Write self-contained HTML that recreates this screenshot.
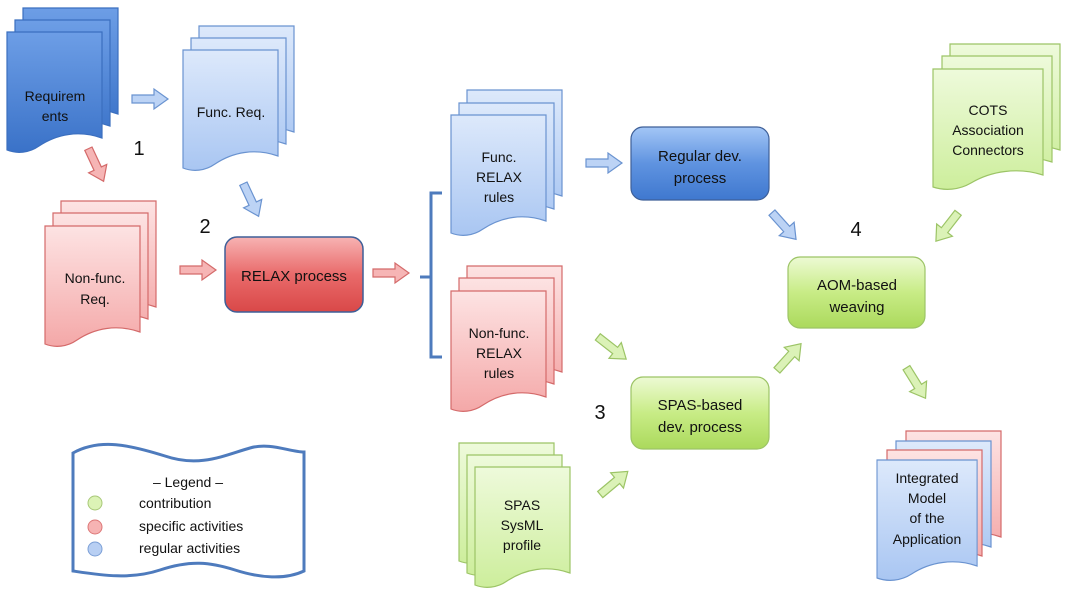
<!DOCTYPE html>
<html><head><meta charset="utf-8"><style>
html,body{margin:0;padding:0;background:#fff;}
svg{display:block;}
text{font-family:"Liberation Sans",sans-serif;fill:#111;}
</style></head><body>
<svg width="1072" height="598" viewBox="0 0 1072 598" xmlns="http://www.w3.org/2000/svg">
<defs>
<linearGradient id="gB" x1="0" y1="0" x2="0" y2="1"><stop offset="0" stop-color="#6d9ee6"/><stop offset="1" stop-color="#3a72c8"/></linearGradient>
<linearGradient id="gLB" x1="0" y1="0" x2="0" y2="1"><stop offset="0" stop-color="#dde9fb"/><stop offset="1" stop-color="#a9c6f2"/></linearGradient>
<linearGradient id="gR" x1="0" y1="0" x2="0" y2="1"><stop offset="0" stop-color="#fde3e3"/><stop offset="1" stop-color="#f4a8a8"/></linearGradient>
<linearGradient id="gG" x1="0" y1="0" x2="0" y2="1"><stop offset="0" stop-color="#eefadb"/><stop offset="1" stop-color="#cdee9c"/></linearGradient>
<linearGradient id="bB" x1="0" y1="0" x2="0" y2="1"><stop offset="0" stop-color="#a3c6f6"/><stop offset="0.5" stop-color="#5f93e0"/><stop offset="1" stop-color="#3f78cf"/></linearGradient>
<linearGradient id="bR" x1="0" y1="0" x2="0" y2="1"><stop offset="0" stop-color="#f7b3b3"/><stop offset="0.5" stop-color="#e96a6a"/><stop offset="1" stop-color="#d94848"/></linearGradient>
<linearGradient id="bG" x1="0" y1="0" x2="0" y2="1"><stop offset="0" stop-color="#edfad4"/><stop offset="0.5" stop-color="#c8ec86"/><stop offset="1" stop-color="#abd95c"/></linearGradient>
<path id="doc" d="M0,0 H95 V106 C72,98 50,102 32,114 C22,121 10,122 0,118 Z"/>
<path id="docw" d="M0,0 H110 V106 C85,98 58,102 38,114 C26,121 12,122 0,118 Z"/>
<path id="arr" d="M-18,-4 H4 V-10 L18,0 L4,10 V4 H-18 Z"/>
</defs>

<!-- Requirements -->
<g stroke="#3b6fbf" stroke-width="1.2">
<use href="#doc" x="23" y="8" fill="url(#gB)"/>
<use href="#doc" x="15" y="20" fill="url(#gB)"/>
<use href="#doc" x="7" y="32" fill="url(#gB)"/>
</g>
<text x="55" y="101" font-size="14" text-anchor="middle">Requirem</text>
<text x="55" y="121" font-size="14" text-anchor="middle">ents</text>

<!-- Func Req -->
<g stroke="#6a93d0" stroke-width="1.2">
<use href="#doc" x="199" y="26" fill="url(#gLB)"/>
<use href="#doc" x="191" y="38" fill="url(#gLB)"/>
<use href="#doc" x="183" y="50" fill="url(#gLB)"/>
</g>
<text x="231" y="117" font-size="14" text-anchor="middle">Func. Req.</text>

<!-- Non-func Req -->
<g stroke="#d46a6a" stroke-width="1.2">
<use href="#doc" x="61" y="201" fill="url(#gR)"/>
<use href="#doc" x="53" y="213" fill="url(#gR)"/>
<use href="#doc" x="45" y="226" fill="url(#gR)"/>
</g>
<text x="95" y="283" font-size="14" text-anchor="middle">Non-func.</text>
<text x="95" y="304" font-size="14" text-anchor="middle">Req.</text>

<!-- RELAX process -->
<rect x="225" y="237" width="138" height="75" rx="12" fill="url(#bR)" stroke="#3e5f98" stroke-width="1.5"/>
<text x="294" y="281" font-size="15" text-anchor="middle">RELAX process</text>

<!-- bracket -->
<path d="M442,193 H431 V357 H442 M431,277 H420" fill="none" stroke="#4e7bbd" stroke-width="3"/>

<!-- Func RELAX rules -->
<g stroke="#6a93d0" stroke-width="1.2">
<use href="#doc" x="467" y="90" fill="url(#gLB)"/>
<use href="#doc" x="459" y="103" fill="url(#gLB)"/>
<use href="#doc" x="451" y="115" fill="url(#gLB)"/>
</g>
<text x="499" y="162" font-size="14" text-anchor="middle">Func.</text>
<text x="499" y="182" font-size="14" text-anchor="middle">RELAX</text>
<text x="499" y="202" font-size="14" text-anchor="middle">rules</text>

<!-- Non-func RELAX rules -->
<g stroke="#d46a6a" stroke-width="1.2">
<use href="#doc" x="467" y="266" fill="url(#gR)"/>
<use href="#doc" x="459" y="278" fill="url(#gR)"/>
<use href="#doc" x="451" y="291" fill="url(#gR)"/>
</g>
<text x="499" y="338" font-size="14" text-anchor="middle">Non-func.</text>
<text x="499" y="358" font-size="14" text-anchor="middle">RELAX</text>
<text x="499" y="378" font-size="14" text-anchor="middle">rules</text>

<!-- SPAS SysML -->
<g stroke="#9cc466" stroke-width="1.2">
<use href="#doc" x="459" y="443" fill="url(#gG)"/>
<use href="#doc" x="467" y="455" fill="url(#gG)"/>
<use href="#doc" x="475" y="467" fill="url(#gG)"/>
</g>
<text x="522" y="510" font-size="14" text-anchor="middle">SPAS</text>
<text x="522" y="530" font-size="14" text-anchor="middle">SysML</text>
<text x="522" y="550" font-size="14" text-anchor="middle">profile</text>

<!-- Regular dev -->
<rect x="631" y="127" width="138" height="73" rx="12" fill="url(#bB)" stroke="#3e5f98" stroke-width="1.2"/>
<text x="700" y="161" font-size="15" text-anchor="middle">Regular dev.</text>
<text x="700" y="183" font-size="15" text-anchor="middle">process</text>

<!-- SPAS-based -->
<rect x="631" y="377" width="138" height="72" rx="12" fill="url(#bG)" stroke="#9cc466" stroke-width="1.2"/>
<text x="700" y="410" font-size="15" text-anchor="middle">SPAS-based</text>
<text x="700" y="432" font-size="15" text-anchor="middle">dev. process</text>

<!-- AOM -->
<rect x="788" y="257" width="137" height="71" rx="12" fill="url(#bG)" stroke="#9cc466" stroke-width="1.2"/>
<text x="857" y="290" font-size="15" text-anchor="middle">AOM-based</text>
<text x="857" y="312" font-size="15" text-anchor="middle">weaving</text>

<!-- COTS -->
<g stroke="#9cc466" stroke-width="1.2">
<use href="#docw" x="950" y="44" fill="url(#gG)"/>
<use href="#docw" x="942" y="56" fill="url(#gG)"/>
<use href="#docw" x="933" y="69" fill="url(#gG)"/>
</g>
<text x="988" y="115" font-size="14" text-anchor="middle">COTS</text>
<text x="988" y="135" font-size="14" text-anchor="middle">Association</text>
<text x="988" y="155" font-size="14" text-anchor="middle">Connectors</text>

<!-- Integrated -->
<use href="#doc" x="906" y="431" fill="url(#gR)" stroke="#d46a6a" stroke-width="1.2"/>
<use href="#doc" x="896" y="441" fill="url(#gLB)" stroke="#6a93d0" stroke-width="1.2"/>
<use href="#doc" x="887" y="450" fill="url(#gR)" stroke="#d46a6a" stroke-width="1.2"/>
<use href="#docw" x="877" y="460" fill="url(#gLB)" stroke="#6a93d0" stroke-width="1.2" transform="translate(877,460) scale(0.91,1) translate(-877,-460)"/>
<text x="927" y="483" font-size="14" text-anchor="middle">Integrated</text>
<text x="927" y="503" font-size="14" text-anchor="middle">Model</text>
<text x="927" y="523" font-size="14" text-anchor="middle">of the</text>
<text x="927" y="544" font-size="14" text-anchor="middle">Application</text>

<!-- Arrows -->
<g stroke-width="1.2">
<use href="#arr" fill="#bcd3f5" stroke="#6a93d0" transform="translate(150,99)"/>
<use href="#arr" fill="#f6b5b5" stroke="#d46a6a" transform="translate(96,165) rotate(65)"/>
<use href="#arr" fill="#bcd3f5" stroke="#6a93d0" transform="translate(251,200) rotate(65)"/>
<use href="#arr" fill="#f6b5b5" stroke="#d46a6a" transform="translate(198,270)"/>
<use href="#arr" fill="#f6b5b5" stroke="#d46a6a" transform="translate(391,273)"/>
<use href="#arr" fill="#bcd3f5" stroke="#6a93d0" transform="translate(604,163)"/>
<use href="#arr" fill="#bcd3f5" stroke="#6a93d0" transform="translate(784,226) rotate(48)"/>
<use href="#arr" fill="#dbf2b7" stroke="#9cc466" transform="translate(612,348) rotate(38)"/>
<use href="#arr" fill="#dbf2b7" stroke="#9cc466" transform="translate(614,483) rotate(-40)"/>
<use href="#arr" fill="#dbf2b7" stroke="#9cc466" transform="translate(789,357) rotate(-48)"/>
<use href="#arr" fill="#dbf2b7" stroke="#9cc466" transform="translate(947,227) rotate(128)"/>
<use href="#arr" fill="#dbf2b7" stroke="#9cc466" transform="translate(916,383) rotate(58)"/>
</g>

<!-- Numbers -->
<text x="139" y="155" font-size="20" text-anchor="middle">1</text>
<text x="205" y="233" font-size="20" text-anchor="middle">2</text>
<text x="600" y="419" font-size="20" text-anchor="middle">3</text>
<text x="856" y="236" font-size="20" text-anchor="middle">4</text>

<!-- Legend -->
<path d="M73,453 C100,438 130,445 165,456 C200,468 225,455 250,448 C270,442 290,452 304,452 L304,571 C285,580 260,578 235,570 C210,562 190,560 160,570 C130,580 100,575 73,571 Z" fill="#fff" stroke="#4e7bbd" stroke-width="3"/>
<text x="188" y="487" font-size="14" text-anchor="middle">– Legend –</text>
<circle cx="95" cy="503" r="7" fill="#dcf3b6" stroke="#a8c878"/>
<circle cx="95" cy="527" r="7" fill="#f6b3b3" stroke="#d77"/>
<circle cx="95" cy="549" r="7" fill="#b8cff3" stroke="#7b9fd6"/>
<text x="139" y="508" font-size="14">contribution</text>
<text x="139" y="531" font-size="14">specific activities</text>
<text x="139" y="553" font-size="14">regular activities</text>
</svg>
</body></html>
